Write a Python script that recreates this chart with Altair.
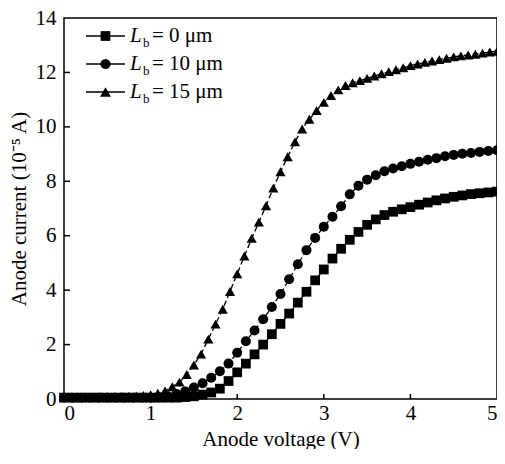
import altair as alt
import pandas as pd

# ---- data ----
series_names = ["Lb = 0 μm", "Lb = 10 μm", "Lb = 15 μm"]
legend_values = ["= 0 μm", "= 10 μm", "= 15 μm"]
shapes = ["square", "circle", "triangle-up"]

v_01 = [0.0, 0.1, 0.2, 0.3, 0.4, 0.5, 0.6, 0.7, 0.8, 0.9,
        1.0, 1.1, 1.2, 1.3, 1.4, 1.5, 1.6, 1.7, 1.8, 1.9,
        2.0, 2.1, 2.2, 2.3, 2.4, 2.5, 2.6, 2.7, 2.8, 2.9,
        3.0, 3.1, 3.2, 3.3, 3.4, 3.5, 3.6, 3.7, 3.8, 3.9,
        4.0, 4.1, 4.2, 4.3, 4.4, 4.5, 4.6, 4.7, 4.8, 4.9, 5.0]

i_lb0 = [0.05, 0.05, 0.05, 0.05, 0.05, 0.05, 0.05, 0.05, 0.05, 0.05,
         0.05, 0.05, 0.05, 0.05, 0.07, 0.10, 0.16, 0.24, 0.38, 0.66,
         0.98, 1.30, 1.64, 2.00, 2.38, 2.76, 3.14, 3.54, 3.94, 4.36,
         4.76, 5.16, 5.52, 5.85, 6.14, 6.40, 6.60, 6.76, 6.88, 6.97,
         7.05, 7.14, 7.22, 7.30, 7.37, 7.43, 7.48, 7.53, 7.56, 7.59, 7.62]

i_lb10 = [0.05, 0.05, 0.05, 0.05, 0.05, 0.05, 0.05, 0.05, 0.05, 0.05,
          0.05, 0.06, 0.10, 0.18, 0.28, 0.42, 0.58, 0.78, 1.02, 1.30,
          1.70, 2.12, 2.52, 2.93, 3.38, 3.86, 4.40, 4.95, 5.47, 5.92,
          6.33, 6.70, 7.08, 7.52, 7.84, 8.06, 8.22, 8.37, 8.47, 8.55,
          8.64, 8.72, 8.79, 8.85, 8.92, 8.97, 9.01, 9.04, 9.08, 9.11, 9.14]

v_tri = [0.0, 0.083, 0.167, 0.25, 0.333, 0.417, 0.5, 0.583, 0.667, 0.75,
         0.833, 0.917, 1.0, 1.083, 1.167, 1.25, 1.333, 1.417, 1.5, 1.583,
         1.667, 1.75, 1.833, 1.917, 2.0, 2.083, 2.167, 2.25, 2.333, 2.417,
         2.5, 2.583, 2.667, 2.75, 2.833, 2.917, 3.0, 3.083, 3.167, 3.25,
         3.333, 3.417, 3.5, 3.583, 3.667, 3.75, 3.833, 3.917, 4.0, 4.083,
         4.167, 4.25, 4.333, 4.417, 4.5, 4.583, 4.667, 4.75, 4.833, 4.917, 5.0]

i_lb15 = [0.08, 0.08, 0.08, 0.08, 0.08, 0.09, 0.09, 0.09, 0.10, 0.10,
          0.11, 0.13, 0.16, 0.21, 0.30, 0.45, 0.62, 0.90, 1.25, 1.65,
          2.20, 2.75, 3.30, 3.95, 4.60, 5.25, 5.90, 6.50, 7.10, 7.75,
          8.35, 8.90, 9.45, 9.92, 10.28, 10.60, 10.90, 11.15, 11.36, 11.52,
          11.62, 11.70, 11.78, 11.87, 11.95, 12.03, 12.10, 12.17, 12.25, 12.31,
          12.37, 12.42, 12.47, 12.52, 12.57, 12.61, 12.64, 12.67, 12.71, 12.75, 12.78]

x_ticks = [1, 2, 3, 4]
y_ticks = [2, 4, 6, 8, 10, 12]

rows = []
for v, i in zip(v_01, i_lb0):
    rows.append({"series": series_names[0], "V": v, "I": i})
for v, i in zip(v_01, i_lb10):
    rows.append({"series": series_names[1], "V": v, "I": i})
for v, i in zip(v_tri, i_lb15):
    rows.append({"series": series_names[2], "V": v, "I": i})
df = pd.DataFrame(rows)

FONT = "Liberation Serif"
W, H = 433, 381

xscale = alt.Scale(domain=[0, 5], nice=False, zero=False)
yscale = alt.Scale(domain=[0, 14], nice=False, zero=False)

base = alt.Chart(df)

lines = base.mark_line(color="black", strokeWidth=1.3, strokeDash=[6, 3]).encode(
    x=alt.X("V:Q", scale=xscale,
            axis=alt.Axis(title="Anode voltage (V)", values=[0, 1, 2, 3, 4, 5],
                          format="d", tickSize=0, domain=False, grid=False,
                          labelPadding=3, titlePadding=5)),
    y=alt.Y("I:Q", scale=yscale,
            axis=alt.Axis(title="Anode current (10⁻⁵ A)", values=[0, 2, 4, 6, 8, 10, 12, 14],
                          format="d", tickSize=0, domain=False, grid=False,
                          labelPadding=8, titlePadding=6)),
    detail="series:N",
)

points = base.mark_point(filled=True, opacity=1, color="black").encode(
    x=alt.X("V:Q", scale=xscale),
    y=alt.Y("I:Q", scale=yscale),
    shape=alt.Shape("series:N", scale=alt.Scale(domain=series_names, range=shapes), legend=None),
    size=alt.Size("series:N", scale=alt.Scale(domain=series_names, range=[95, 105, 120]), legend=None),
)

xt = alt.Chart(pd.DataFrame({"t": x_ticks})).mark_rule(color="black", strokeWidth=1.5).encode(
    x=alt.X("t:Q", scale=xscale), y=alt.value(H), y2=alt.value(H - 5))
yt = alt.Chart(pd.DataFrame({"t": y_ticks})).mark_rule(color="black", strokeWidth=1.5).encode(
    y=alt.Y("t:Q", scale=yscale), x=alt.value(0), x2=alt.value(6))

layers = [lines, points, xt, yt]

row_y = [18, 46, 74]
for k in range(3):
    d = pd.DataFrame({"label": [series_names[k]], "rest": [legend_values[k]]})
    c = alt.Chart(d)
    layers.append(c.mark_rule(color="black", strokeWidth=1.5).encode(
        x=alt.value(22), x2=alt.value(61), y=alt.value(row_y[k])))
    layers.append(c.mark_point(filled=True, opacity=1, color="black", shape=shapes[k],
                               size=[95, 105, 120][k]).encode(
        x=alt.value(41.5), y=alt.value(row_y[k])))
    layers.append(c.mark_text(font=FONT, fontSize=21, fontStyle="italic", align="left",
                              baseline="middle", color="black", text="L").encode(
        x=alt.value(66), y=alt.value(row_y[k])))
    layers.append(c.mark_text(font=FONT, fontSize=13, align="left",
                              baseline="middle", color="black", text="b").encode(
        x=alt.value(79), y=alt.value(row_y[k] + 7)))
    layers.append(c.mark_text(font=FONT, fontSize=21, align="left",
                              baseline="middle", color="black").encode(
        x=alt.value(88), y=alt.value(row_y[k]), text="rest:N"))

chart = alt.layer(*layers).properties(
    width=W, height=H,
    autosize=alt.AutoSizeParams(type="none"),
    padding={"left": 56, "top": 10, "right": 0, "bottom": 50},
).configure(background="white").configure_view(
    stroke="black", strokeWidth=1.5
).configure_axis(
    labelFont=FONT, titleFont=FONT, labelFontSize=21, titleFontSize=21,
    labelColor="black", titleColor="black", titleFontWeight="normal",
)

chart.save("out.html", embed_options={"renderer": "svg", "actions": False})
